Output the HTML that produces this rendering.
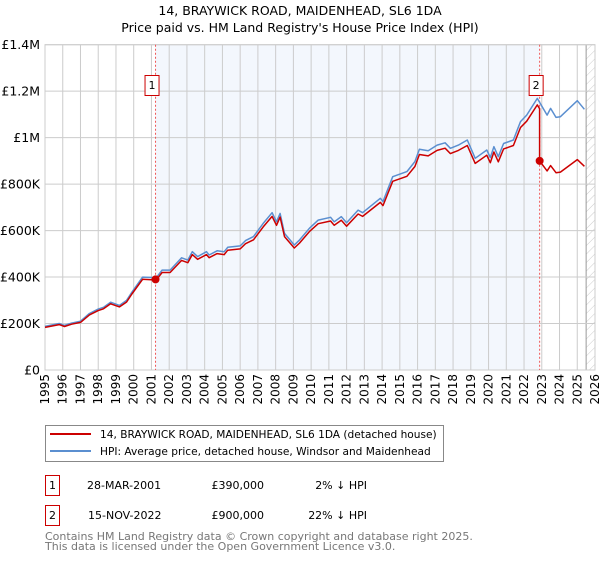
<!DOCTYPE html>
<html><head><meta charset="utf-8"><style>
body{margin:0;background:#fff;font-family:"DejaVu Sans","Liberation Sans",sans-serif;}
svg text{font-family:"DejaVu Sans","Liberation Sans",sans-serif;}
</style></head><body>
<svg id="c" width="600" height="560" viewBox="0 0 600 560" xmlns="http://www.w3.org/2000/svg">
<defs><pattern id="hatch" width="6" height="6" patternUnits="userSpaceOnUse" patternTransform="rotate(45)"><line x1="0" y1="0" x2="0" y2="6" stroke="#ccc" stroke-width="1"/></pattern></defs>
<text x="300" y="15" text-anchor="middle" font-size="12.5">14, BRAYWICK ROAD, MAIDENHEAD, SL6 1DA</text>
<text x="300" y="32" text-anchor="middle" font-size="12.5">Price paid vs. HM Land Registry's House Price Index (HPI)</text>
<g id="plot"></g>
<g>
<rect x="45.5" y="425.5" width="398" height="36" fill="#fff" stroke="#888"/>
<line x1="50" y1="434" x2="91" y2="434" stroke="#cc0000" stroke-width="2"/>
<text x="100" y="438" font-size="10.6">14, BRAYWICK ROAD, MAIDENHEAD, SL6 1DA (detached house)</text>
<line x1="50" y1="451" x2="91" y2="451" stroke="#5b8fd0" stroke-width="2"/>
<text x="100" y="455" font-size="10.6">HPI: Average price, detached house, Windsor and Maidenhead</text>
</g>
<g font-size="11">
<rect x="45.5" y="475.5" width="14" height="20" fill="#fff" stroke="#cc0000"/>
<text x="52.5" y="489" text-anchor="middle">1</text>
<text x="87" y="489">28-MAR-2001</text>
<text x="264" y="489" text-anchor="end">£390,000</text>
<text x="367" y="489" text-anchor="end">2% ↓ HPI</text>
<rect x="45.5" y="505.5" width="14" height="20" fill="#fff" stroke="#cc0000"/>
<text x="52.5" y="519" text-anchor="middle">2</text>
<text x="88" y="519">15-NOV-2022</text>
<text x="264" y="519" text-anchor="end">£900,000</text>
<text x="367" y="519" text-anchor="end">22% ↓ HPI</text>
</g>
<text x="45" y="540" font-size="11" fill="#777">Contains HM Land Registry data © Crown copyright and database right 2025.</text>
<text x="45" y="550" font-size="11" fill="#777">This data is licensed under the Open Government Licence v3.0.</text>
</svg>
<script>
const hpiYears=[1995.0,1995.8,1996.1,1996.5,1997.0,1997.5,1998.0,1998.3,1998.7,1999.2,1999.6,1999.9,2000.5,2001.0,2001.3,2001.6,2002.05,2002.7,2003.05,2003.3,2003.6,2004.1,2004.25,2004.7,2005.1,2005.3,2006.0,2006.3,2006.75,2007.3,2007.8,2008.05,2008.25,2008.5,2009.05,2009.35,2009.9,2010.4,2011.1,2011.3,2011.7,2012.0,2012.65,2012.9,2013.9,2014.05,2014.6,2015.4,2015.85,2016.1,2016.6,2017.1,2017.55,2017.85,2018.3,2018.8,2019.25,2019.9,2020.1,2020.3,2020.55,2020.85,2021.4,2021.8,2022.15,2022.75,2023.3,2023.5,2023.8,2024.05,2025.0,2025.4];
const hpiValues=[188,200,192,202,210,243,262,270,292,278,300,335,400,398,400,430,430,483,473,509,488,509,495,513,509,528,534,557,574,631,677,638,674,588,538,560,610,645,657,638,660,634,688,677,739,725,832,854,897,950,944,968,978,954,968,990,911,947,914,961,918,975,990,1069,1097,1169,1097,1126,1087,1090,1159,1122];
const saleYears=[2001.23,2022.88];
const salePrices=[390,900];
const saleLabels=["1","2"];
const yTicks=[0,200,400,600,800,1000,1200,1400];
const yTickLabels=["£0","£200K","£400K","£600K","£800K","£1M","£1.2M","£1.4M"];
const xTicks=[1995,1996,1997,1998,1999,2000,2001,2002,2003,2004,2005,2006,2007,2008,2009,2010,2011,2012,2013,2014,2015,2016,2017,2018,2019,2020,2021,2022,2023,2024,2025,2026];

const X0=45,X1=595,Y0=370,Y1=44.7;
const xs=y=>X0+(y-1995)/(2026-1995)*(X1-X0);
const ys=v=>Y0-v/1400*(Y0-Y1);
const NS="http://www.w3.org/2000/svg";
const plot=document.getElementById('plot');
function mk(t,a,p){const e=document.createElementNS(NS,t);for(const k in a)e.setAttribute(k,a[k]);(p||plot).appendChild(e);return e;}
function hpiAt(y){for(let i=1;i<hpiYears.length;i++){if(y<=hpiYears[i]){const t=(y-hpiYears[i-1])/(hpiYears[i]-hpiYears[i-1]);return hpiValues[i-1]+t*(hpiValues[i]-hpiValues[i-1]);}}return hpiValues[hpiValues.length-1];}

let e=mk('rect',{x:X0,y:Y1,width:X1-X0,height:Y0-Y1,fill:'#fff'});


e=mk('rect',{x:xs(saleYears[0]),y:Y1,width:xs(saleYears[1])-xs(saleYears[0]),height:Y0-Y1,fill:'#eef3fc',opacity:0.7});


e=mk('rect',{x:xs(2025.5),y:Y1,width:X1-xs(2025.5),height:Y0-Y1,fill:'url(#hatch)'});


e=mk('line',{x1:xs(2025.5),y1:Y1,x2:xs(2025.5),y2:Y0,stroke:'#999'});


xTicks.forEach(t=>{const x=xs(t);
 const l=mk('line',{x1:x,y1:Y1,x2:x,y2:Y0,stroke:'#ccc','stroke-width':1});
 
 
 const tx=mk('text',{x:0,y:0,'font-size':12,'text-anchor':'end',transform:`translate(${x+4},${Y0+4}) rotate(-90)`});
 tx.textContent=t;
 
 });
yTicks.forEach((t,i)=>{const y=ys(t);
 const l=mk('line',{x1:X0,y1:y,x2:X1,y2:y,stroke:'#ccc','stroke-width':1});
 
 
 const tx=mk('text',{x:X0-5,y:y+4.5,'font-size':12.5,'text-anchor':'end'});
 tx.textContent=yTickLabels[i];
 
 });
e=mk('rect',{x:X0,y:Y1,width:X1-X0,height:Y0-Y1,fill:'none',stroke:'#ccc'});


saleYears.forEach((s,i)=>{const x=xs(s);
 const l=mk('line',{x1:x,y1:Y1,x2:x,y2:Y0,stroke:'#e55','stroke-width':1,'stroke-dasharray':'2,2'});
 
 
 const r=mk('rect',{x:x-10.5,y:75.5,width:14,height:20,fill:'#fff',stroke:'#cc0000'});
 
 
 const t=mk('text',{x:x-3.5,y:89,'font-size':11,'text-anchor':'middle'});
 t.textContent=saleLabels[i];
 
 });
let d=hpiYears.map((y,i)=>(i?'L':'M')+xs(y).toFixed(1)+','+ys(hpiValues[i]).toFixed(1)).join('');
e=mk('path',{d:d,fill:'none',stroke:'#5b8fd0','stroke-width':1.5,'stroke-linejoin':'round'});


const f1=salePrices[0]/hpiAt(saleYears[0]),f2=salePrices[1]/hpiAt(saleYears[1]);
let pts=[];
hpiYears.forEach((y,i)=>{if(y<saleYears[1])pts.push([y,hpiValues[i]*f1]);});
pts.push([saleYears[1],hpiAt(saleYears[1])*f1]);
pts.push([saleYears[1],salePrices[1]]);
hpiYears.forEach((y,i)=>{if(y>saleYears[1])pts.push([y,hpiValues[i]*f2]);});
d=pts.map((p,i)=>(i?'L':'M')+xs(p[0]).toFixed(1)+','+ys(p[1]).toFixed(1)).join('');
e=mk('path',{d:d,fill:'none',stroke:'#cc0000','stroke-width':1.5,'stroke-linejoin':'round'});


saleYears.forEach((s,i)=>{const c=mk('circle',{cx:xs(s),cy:ys(salePrices[i]),r:4,fill:'#cc0000'});
 
 });
</script>
</body></html>
